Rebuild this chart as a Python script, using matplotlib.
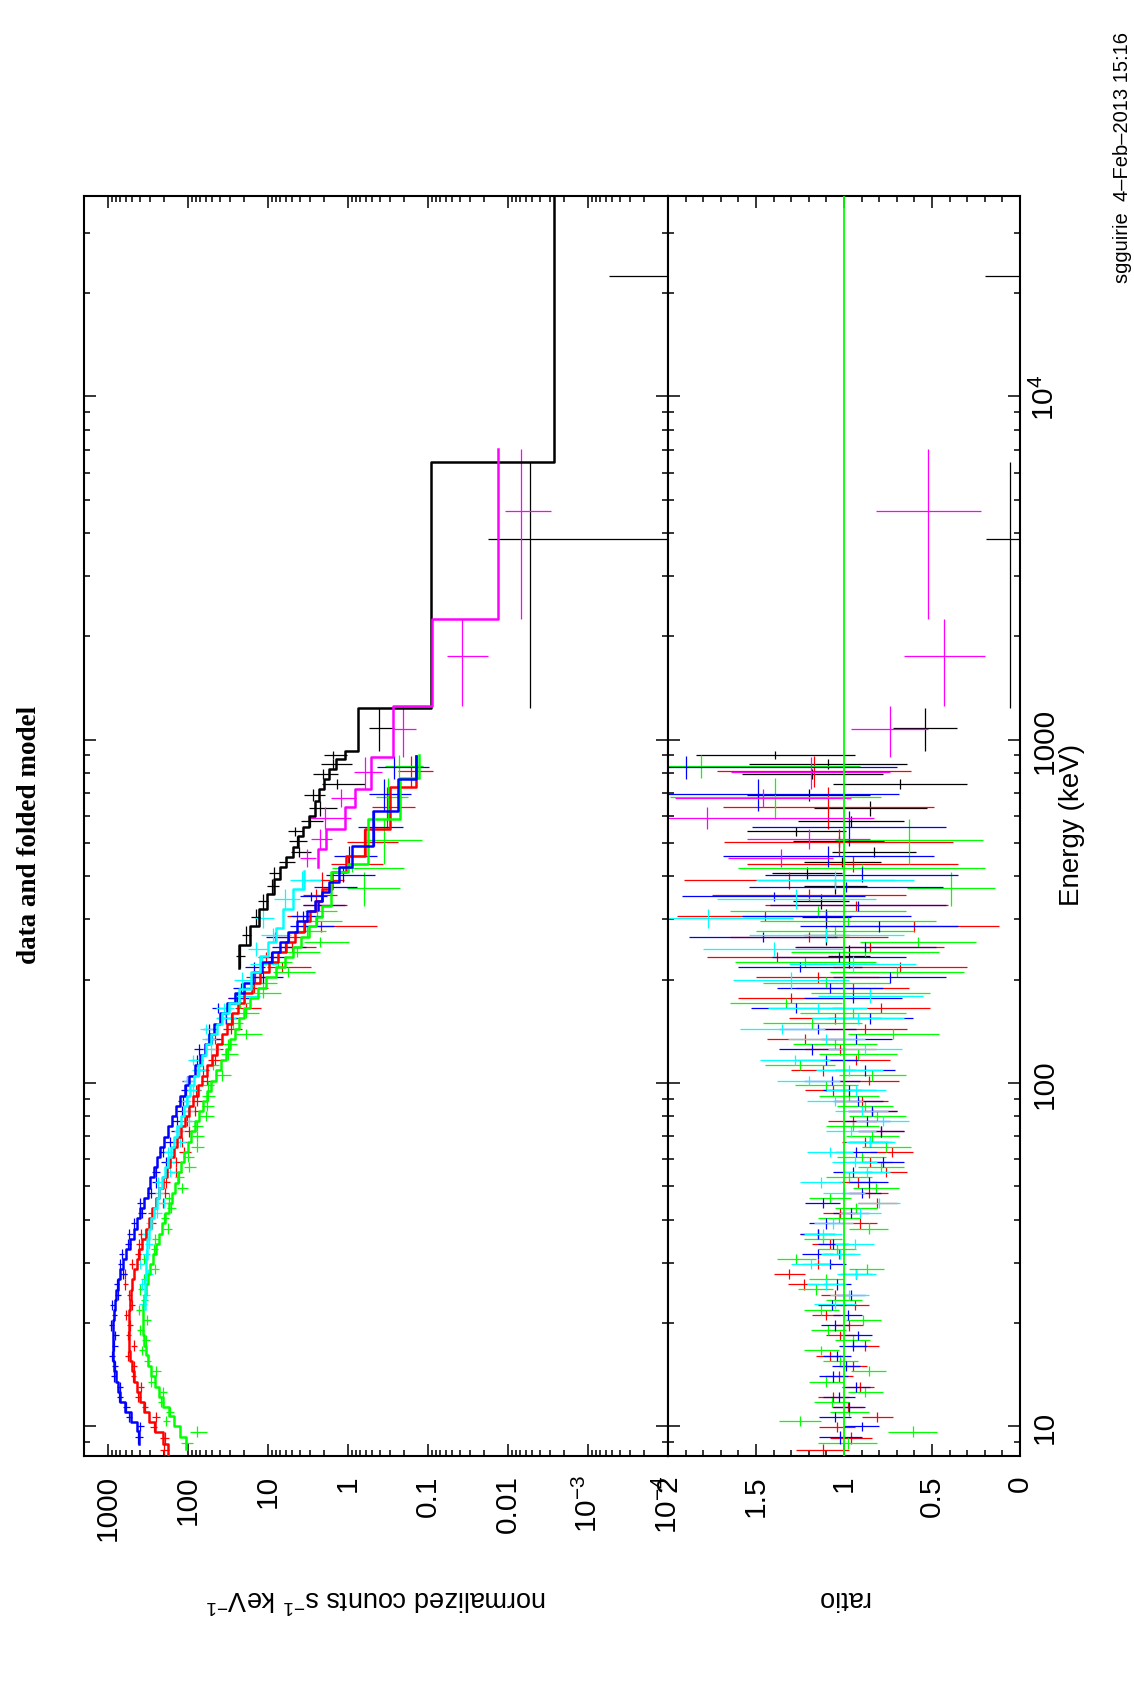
import numpy as np
import matplotlib
matplotlib.use("Agg")
import matplotlib.pyplot as plt
from matplotlib import font_manager
from matplotlib.ticker import FixedLocator, LogLocator, NullFormatter, MultipleLocator, FuncFormatter

# ---- data (energy bin edges in keV, folded model, data/model ratio) ----
blue_edges = [8.9, 9.7, 10.3, 11.0, 11.8, 12.6, 13.5, 14.5, 15.5, 16.6, 17.8, 19.0, 20.4, 21.8, 23.4,
              25.0, 26.8, 28.7, 30.7, 32.9, 35.2, 37.7, 40.4, 43.2, 46.3, 49.6, 53.1, 56.9, 60.9, 65.2,
              69.8, 74.8, 80.1, 85.8, 91.9, 98.4, 105, 113, 121, 130, 139, 149, 160, 171, 183,
              196, 210, 225, 241, 258, 276, 296, 318, 340, 359, 384, 425, 491, 621, 770, 898]
blue_model = [409, 440, 520, 610, 700, 760, 805, 835, 860, 875,
              879, 870, 850, 823, 790, 750, 700, 650, 590, 530,
              470, 430, 395, 355, 320, 295, 265, 245, 222, 200,
              176, 160, 142, 125, 110, 96, 82, 71, 62, 54,
              47, 40, 33, 26, 20, 15.5, 12, 9.0, 7.0, 5.6,
              4.3, 3.3, 2.6, 2.1, 1.75, 1.30, 0.895, 0.489, 0.238, 0.14]
blue_ratio = [1.02, 0.90, 1.05, 0.97, 1.03, 0.93, 1.06, 0.99, 1.04, 0.95,
              0.92, 1.05, 0.98, 1.07, 0.96, 1.04, 0.93, 1.08, 1.15, 1.06,
              1.15, 1.10, 0.96, 1.12, 0.90, 0.86, 0.95, 0.78, 0.93, 0.85,
              0.79, 0.87, 0.84, 0.92, 0.97, 1.07, 0.88, 1.10, 1.18, 0.93,
              1.15, 0.85, 1.27, 0.95, 1.08, 0.74, 1.25, 1.03, 0.88, 1.46,
              0.80, 1.10, 0.92, 1.40, 0.99, 0.90, 1.09, 0.97, 1.49, 1.90]
blue_err = [0.12, 0.10, 0.09, 0.09, 0.09, 0.08, 0.08, 0.08, 0.08, 0.08,
            0.08, 0.08, 0.08, 0.08, 0.08, 0.08, 0.09, 0.09, 0.09, 0.09,
            0.10, 0.10, 0.10, 0.10, 0.11, 0.11, 0.11, 0.12, 0.12, 0.12,
            0.13, 0.13, 0.14, 0.14, 0.15, 0.16, 0.17, 0.18, 0.19, 0.20,
            0.22, 0.24, 0.26, 0.28, 0.30, 0.32, 0.35, 0.38, 0.40, 0.42,
            0.45, 0.48, 0.50, 0.52, 0.55, 0.55, 0.60, 0.55, 0.80, 1.20]

red_edges = [8.2, 8.9, 9.6, 10.3, 11.0, 11.8, 12.6, 13.5, 14.5, 15.5, 16.6, 17.8, 19.0, 20.4, 21.8,
             23.4, 25.0, 26.8, 28.7, 30.7, 32.9, 35.2, 37.7, 40.4, 43.2, 46.3, 49.6, 53.1, 56.9, 60.9,
             65.2, 69.8, 74.8, 80.1, 85.8, 91.9, 98.4, 105, 113, 121, 130, 139, 149, 160, 171,
             183, 196, 210, 225, 241, 258, 276, 296, 318, 340, 367, 411, 459, 550, 726, 898]
red_model = [177, 205, 260, 310, 355, 395, 430, 470, 500, 525,
             540, 547, 548, 543, 535, 520, 500, 470, 440, 410,
             375, 340, 310, 280, 252, 228, 205, 185, 168, 152,
             137, 122, 110, 97, 86, 76, 67, 58, 50, 44,
             38, 33, 28, 24, 20, 16, 12.5, 9.8, 7.6, 5.9,
             4.6, 3.6, 3.0, 2.5, 2.1, 1.6, 1.05, 0.62, 0.30, 0.14]
red_ratio = [1.12, 0.96, 1.04, 0.81, 0.98, 1.06, 0.91, 1.03, 0.95, 1.08,
             0.88, 1.02, 0.97, 1.10, 0.94, 1.05, 1.23, 1.31, 1.15, 1.03,
             1.08, 1.15, 0.91, 1.02, 0.81, 0.86, 0.92, 0.76, 0.85, 0.73,
             0.88, 0.79, 0.95, 0.84, 0.90, 1.06, 0.86, 1.12, 0.93, 1.02,
             1.22, 0.88, 1.05, 0.79, 1.30, 0.95, 1.15, 0.68, 1.38, 0.85,
             1.20, 0.60, 1.45, 0.93, 1.20, 1.31, 0.95, 1.03, 1.09, 1.17]
red_err = [0.15, 0.12, 0.10, 0.09, 0.09, 0.09, 0.08, 0.08, 0.08, 0.08,
           0.08, 0.08, 0.08, 0.08, 0.08, 0.08, 0.09, 0.09, 0.09, 0.09,
           0.10, 0.10, 0.10, 0.10, 0.11, 0.11, 0.11, 0.12, 0.12, 0.12,
           0.13, 0.13, 0.14, 0.14, 0.15, 0.16, 0.17, 0.18, 0.19, 0.20,
           0.22, 0.24, 0.26, 0.28, 0.30, 0.32, 0.35, 0.38, 0.40, 0.42,
           0.45, 0.48, 0.50, 0.52, 0.55, 0.60, 0.60, 0.65, 0.60, 0.55]

green_edges = [8.6, 9.3, 10.0, 10.7, 11.4, 12.2, 13.0, 14.0, 15.0, 16.1, 17.2, 18.4, 19.7, 21.1, 22.6,
               24.2, 25.9, 27.7, 29.7, 31.8, 34.0, 36.4, 39.0, 41.8, 44.7, 47.9, 51.3, 55.0, 58.9, 63.0,
               67.5, 72.3, 77.4, 82.9, 88.8, 95.1, 101.7, 109, 117, 125.5, 134.5, 144, 154.5, 165.5, 177,
               189.5, 203, 217.5, 233, 249.5, 267, 287, 305, 328, 411, 434, 588, 776, 900]
green_model = [107, 125, 150, 175, 205, 232, 262, 290, 315, 338,
               355, 364, 366, 364, 355, 340, 320, 300, 278, 255,
               230, 210, 192, 175, 160, 146, 133, 122, 111, 101,
               91, 82, 73, 65, 58, 51, 45, 39, 34, 30,
               26, 23, 20, 17, 13.5, 10.5, 8.0, 6.2, 4.9, 3.9,
               3.1, 2.5, 2.1, 1.62, 1.0, 0.565, 0.227, 0.128]
green_ratio = [0.98, 0.61, 1.25, 0.97, 1.07, 0.88, 1.10, 0.86, 1.02, 1.13,
               0.95, 1.09, 0.89, 1.13, 1.00, 1.16, 1.10, 0.87, 1.27, 1.04,
               1.12, 0.86, 1.03, 0.93, 1.08, 0.82, 0.97, 0.79, 0.90, 0.76,
               0.84, 0.95, 0.81, 0.88, 0.97, 1.10, 0.84, 1.25, 0.92, 1.05,
               0.72, 1.18, 0.95, 1.33, 0.85, 1.10, 0.70, 1.22, 0.88, 0.58,
               1.05, 0.98, 1.15, 0.39, 0.90, 0.63, 1.39, 1.81]
green_err = [0.17, 0.14, 0.12, 0.11, 0.10, 0.10, 0.10, 0.10, 0.10, 0.10,
             0.10, 0.10, 0.10, 0.10, 0.10, 0.10, 0.10, 0.10, 0.11, 0.11,
             0.11, 0.11, 0.12, 0.12, 0.12, 0.13, 0.13, 0.13, 0.14, 0.14,
             0.15, 0.15, 0.16, 0.16, 0.17, 0.18, 0.19, 0.20, 0.22, 0.24,
             0.26, 0.28, 0.30, 0.32, 0.34, 0.36, 0.38, 0.40, 0.42, 0.33,
             0.45, 0.50, 0.50, 0.25, 0.70, 0.42, 0.60, 0.90]

cyan_edges = [22.0, 23.4, 25.0, 26.8, 28.7, 30.7, 32.9, 35.2, 37.7, 40.4, 43.2, 46.3, 49.6,
              53.1, 56.9, 60.9, 65.2, 69.8, 74.8, 80.1, 85.8, 91.9, 98.4, 105, 113, 121,
              130, 139, 149, 160, 171, 188, 210, 235, 257, 282, 321, 367, 415]
cyan_model = [347, 345, 343, 338, 333, 330, 328, 310, 290, 268,
              248, 230, 210, 193, 178, 163, 150, 137, 124, 112,
              102, 94, 85, 76, 67, 59, 51, 44, 38, 31,
              23, 16.5, 12.7, 10.0, 7.9, 6.5, 4.89, 3.59]
cyan_ratio = [1.05, 0.97, 1.10, 0.93, 1.19, 1.02, 0.94, 1.12, 1.06, 0.91,
              0.80, 1.00, 1.13, 0.87, 0.94, 1.08, 0.85, 0.96, 0.78, 0.90,
              1.05, 0.93, 1.20, 0.97, 1.28, 0.88, 1.10, 1.35, 0.92, 1.15,
              0.85, 1.30, 0.95, 1.40, 1.10, 1.77, 1.27, 1.05]
cyan_err = [0.12, 0.11, 0.11, 0.11, 0.11, 0.11, 0.11, 0.11, 0.11, 0.12,
            0.12, 0.12, 0.12, 0.13, 0.13, 0.13, 0.14, 0.14, 0.15, 0.15,
            0.16, 0.17, 0.18, 0.19, 0.20, 0.21, 0.22, 0.24, 0.26, 0.28,
            0.30, 0.33, 0.36, 0.40, 0.44, 0.48, 0.45, 0.45]

black_edges = [217, 252, 287, 321, 355, 393, 425, 454, 486, 525, 556, 601, 664, 718, 769,
               822, 879, 929, 1234, 6430, 38400]
black_model = [23.1, 17.0, 13.0, 10.3, 8.5, 7.0, 5.9, 4.88, 4.23, 3.66,
               3.08, 2.62, 2.31, 2.02, 1.73, 1.40, 1.10, 0.75, 0.092, 0.0027]
black_ratio = [0.97, 1.10, 1.10, 1.13, 1.05, 1.21, 1.01, 0.83, 1.03, 1.27,
               0.96, 0.85, 1.20, 0.68, 1.18, 1.09, 1.39, 0.54, 0.058, -0.6]
black_err = [0.12, 0.13, 0.14, 0.16, 0.18, 0.20, 0.22, 0.24, 0.26, 0.28,
             0.30, 0.32, 0.35, 0.38, 0.40, 0.45, 0.45, 0.18, 0.134, 0.8]

magenta_edges = [425, 481, 550, 635, 718, 889, 1256, 2250, 7030]
magenta_model = [2.38, 1.87, 1.10, 0.83, 0.51, 0.275, 0.088, 0.0132]
magenta_ratio = [1.36, 1.20, 1.78, 1.46, 1.19, 0.74, 0.43, 0.52]
magenta_err = [0.30, 0.35, 0.95, 0.50, 0.45, 0.22, 0.23, 0.30]

count_ticks = [1e3, 1e2, 10, 1, 0.1, 0.01, 1e-3, 1e-4]
count_labels = ["1000", "100", "10", "1", "0.1", "0.01", "10$^{-3}$", "10$^{-4}$"]
energy_labels = {10: "10", 100: "100", 1000: "1000", 10000: "10$^4$"}

# ---- fonts ----
installed = {f.name for f in font_manager.fontManager.ttflist}
narrow = "Liberation Sans Narrow" in installed
tick_family = "Liberation Sans Narrow" if narrow else "Liberation Sans"
tick_size = 25 if narrow else 21.5

plt.rcParams["font.family"] = ["Liberation Sans", "DejaVu Sans"]
plt.rcParams["mathtext.fontset"] = "custom"
plt.rcParams["mathtext.rm"] = "Liberation Sans"
plt.rcParams["mathtext.default"] = "regular"

W, H = 1134, 1690
fig = plt.figure(figsize=(W / 100, H / 100), dpi=100)

top_px, bot_px = 196.7, 1457
ax1 = fig.add_axes([84 / W, 1 - bot_px / H, (668 - 84) / W, (bot_px - top_px) / H])
ax2 = fig.add_axes([668 / W, 1 - bot_px / H, (1020 - 668) / W, (bot_px - top_px) / H])

groups = [
    (black_edges, black_model, black_ratio, black_err, "#000000"),
    (red_edges, red_model, red_ratio, red_err, "#FF0000"),
    (green_edges, green_model, green_ratio, green_err, "#00FF00"),
    (blue_edges, blue_model, blue_ratio, blue_err, "#0000FF"),
    (cyan_edges, cyan_model, cyan_ratio, cyan_err, "#00FFFF"),
    (magenta_edges, magenta_model, magenta_ratio, magenta_err, "#FF00FF"),
]

# data crosses first
for edges, model, ratio, err, col in groups:
    e = np.array(edges, float)
    m = np.array(model, float)
    r = np.array(ratio, float)
    s = np.array(err, float)
    lo, hi = e[:-1], e[1:]
    ec = (lo + hi) / 2
    ax1.errorbar(m * r, ec, xerr=m * s, yerr=[ec - lo, hi - ec], fmt="none",
                 ecolor=col, elinewidth=0.9, capsize=0, zorder=2)
    ax2.errorbar(r, ec, xerr=s, yerr=[ec - lo, hi - ec], fmt="none",
                 ecolor=col, elinewidth=0.9, capsize=0, zorder=2)

# folded model steps on top
for edges, model, ratio, err, col in groups:
    e = np.array(edges, float)
    m = np.array(model, float)
    ax1.plot(np.repeat(m, 2), np.repeat(e, 2)[1:-1], color=col, lw=1.8, zorder=3)

ax2.axvline(1.0, color="#00FF00", lw=1.3, zorder=4)

# ---- axes ----
for ax in (ax1, ax2):
    ax.set_yscale("log")
    ax.set_ylim(8.2, 38400)
    ax.yaxis.set_major_locator(LogLocator(base=10))
    ax.yaxis.set_minor_locator(LogLocator(base=10, subs=np.arange(2, 10)))
    ax.yaxis.set_minor_formatter(NullFormatter())
    ax.tick_params(which="both", direction="in", top=True, bottom=True, left=True, right=True,
                   labelfontfamily=tick_family, labelsize=tick_size, width=1.1)
    ax.tick_params(which="major", length=8.5)
    ax.tick_params(which="minor", length=4.3)
    for sp in ax.spines.values():
        sp.set_linewidth(1.5)

ax1.set_xscale("log")
ax1.set_xlim(2000, 1e-4)
ax1.xaxis.set_major_locator(FixedLocator(count_ticks))
ax1.xaxis.set_major_formatter(FuncFormatter(lambda v, p: count_labels[count_ticks.index(v)] if v in count_ticks else ""))
ax1.xaxis.set_minor_locator(LogLocator(base=10, subs=np.arange(2, 10), numticks=20))
ax1.xaxis.set_minor_formatter(NullFormatter())
ax1.tick_params(axis="x", labelrotation=90, pad=13)
ax1.tick_params(axis="y", labelleft=False, labelright=False)

ax2.set_xlim(2, 0)
ax2.xaxis.set_major_locator(MultipleLocator(0.5))
ax2.xaxis.set_minor_locator(MultipleLocator(0.1))
ax2.xaxis.set_major_formatter(FuncFormatter(lambda v, p: f"{v:g}"))
ax2.tick_params(axis="x", labelrotation=90, pad=13)
ax2.yaxis.set_major_formatter(FuncFormatter(lambda v, p: energy_labels.get(int(round(v)), "")))
ax2.tick_params(axis="y", labelleft=False, labelright=True, labelrotation=90, pad=8)
fig.canvas.draw()
plt.setp(ax2.get_yticklabels(), va="center")

# ---- labels (page is rotated, so everything is turned) ----
fig.text(30 / W, 1 - 835 / H, "data and folded model", rotation=90, ha="center", va="center",
         fontsize=19.5, fontweight="bold", family=["Liberation Serif", "DejaVu Serif"])
fig.text(1072 / W, 1 - 825 / H, "Energy (keV)", rotation=90, ha="center", va="center", fontsize=20)
fig.text(376 / W, 1 - 1598 / H, "normalized counts s$^{-1}$ keV$^{-1}$", rotation=180,
         ha="center", va="center", fontsize=19.5)
fig.text(843 / W, 1 - 1598 / H, "ratio", rotation=180, ha="center", va="center", fontsize=19.5)
fig.text(1123 / W, 1 - 32 / H, "sgguirie  4\u2013Feb\u20132013 15:16", rotation=90,
         ha="center", va="top", fontsize=14.5)

fig.savefig("out.png", dpi=100)
